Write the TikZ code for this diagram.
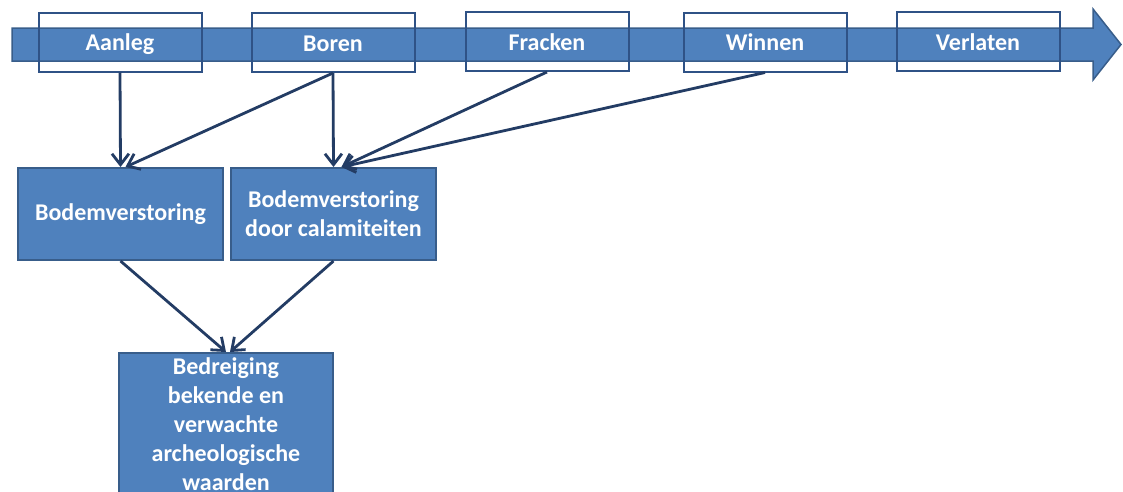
\documentclass[tikz,border=0pt]{standalone}
\usepackage{fontspec}
\setmainfont{Carlito}
\usetikzlibrary{arrows.meta}
\definecolor{fillblue}{HTML}{4F81BD}
\definecolor{edgeblue}{HTML}{385D8A}
\definecolor{phaseedge}{HTML}{2F5286}
\definecolor{arrowblue}{HTML}{233C64}
\begin{document}
\begin{tikzpicture}[x=1pt,y=-1pt,
  lbl/.style={font=\fontsize{24}{29}\selectfont\bfseries, text=white},
  phase/.style={lbl, draw=phaseedge, line width=2pt, minimum width=163pt, minimum height=59pt, inner sep=0pt, text height=17pt, text depth=0pt},
  effect/.style={lbl, draw=edgeblue, fill=fillblue, line width=2pt, minimum width=205pt, minimum height=92pt, inner sep=2pt, align=center},
  conn/.style={draw=arrowblue, line width=2.8pt, -{Straight Barb[length=11pt,width=17pt,line width=2.8pt]}}
]
\useasboundingbox (0,0) rectangle (1123,491);
% time line arrow
\draw[fill=fillblue, draw=edgeblue, line width=1.5pt, line join=miter]
  (12,28) -- (1093,28) -- (1093,9) -- (1121,44.5) -- (1093,80) -- (1093,61) -- (12,61) -- cycle;
% phases
\node[phase] (aanleg) at (120,42) {Aanleg};
\node[phase] (boren) at (333,42.5) {Boren};
\node[phase] (fracken) at (547,41.5) {Fracken};
\node[phase] (winnen) at (765,42) {Winnen};
\node[phase] (verlaten) at (978,41.5) {Verlaten};
% effects
\node[effect] (bod1) at (120.5,214) {Bodemverstoring};
\node[effect] (bod2) at (333.5,214) {Bodemverstoring\\door calamiteiten};
\node[lbl, draw=edgeblue, fill=fillblue, line width=2pt, anchor=north, minimum width=214pt, inner xsep=0pt, inner ysep=3pt, text height=18pt, text depth=150pt] (threat) at (226,352)
  {\parbox[t]{210pt}{\centering Bedreiging\\bekende en\\verwachte\\archeologische\\waarden}};
% connectors
\draw[conn] (aanleg.south) -- (bod1.north);
\draw[conn] (boren.south) -- ([xshift=5pt]bod1.north);
\draw[conn] (boren.south) -- (bod2.north);
\draw[conn] (fracken.south) -- ([xshift=8pt]bod2.north);
\draw[conn] (winnen.south) -- ([xshift=8pt]bod2.north);
\draw[conn] (bod1.south) -- (threat.north);
\draw[conn] (bod2.south) -- ([xshift=4pt]threat.north);
\end{tikzpicture}
\end{document}
